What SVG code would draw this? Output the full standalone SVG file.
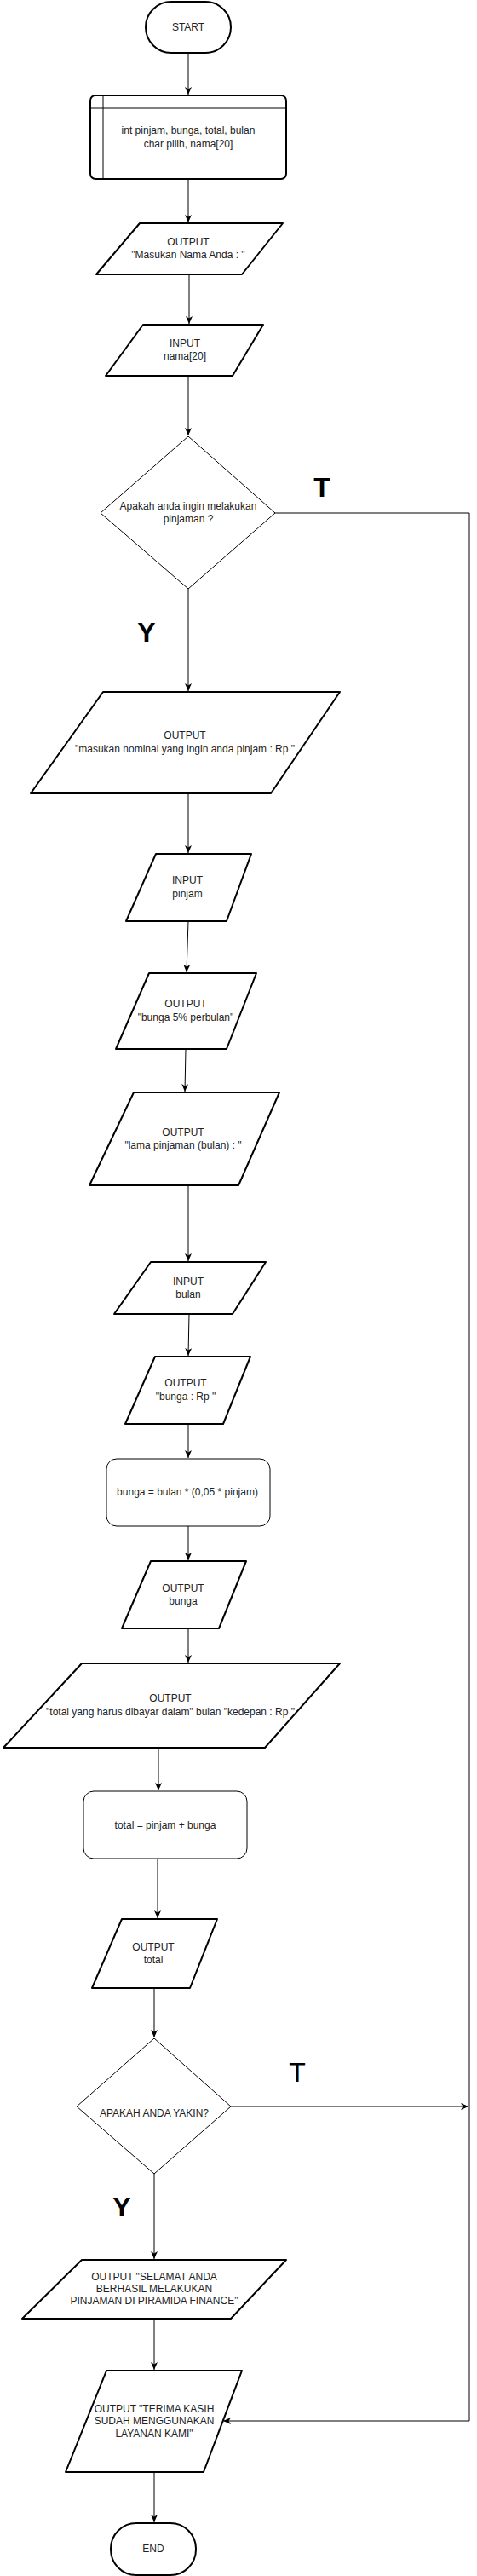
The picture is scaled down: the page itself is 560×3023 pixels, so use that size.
<svg xmlns="http://www.w3.org/2000/svg" width="560" height="3023" viewBox="0 0 560 3023">
<defs>
<marker id="arr" viewBox="0 0 10 8" markerWidth="10" markerHeight="8" refX="9" refY="4" orient="auto" markerUnits="userSpaceOnUse">
<path d="M0,0 L9,4 L0,8 L2.5,4 z" fill="#000"/>
</marker>
<style>
.s2{fill:#fff;stroke:#000;stroke-width:2;stroke-linejoin:round}
.s1{fill:#fff;stroke:#000;stroke-width:1;stroke-linejoin:round}
.t{font-family:"Liberation Sans",Arial,sans-serif;font-size:12px;fill:#222;text-anchor:middle}
.big{font-family:"Liberation Sans",Arial,sans-serif;font-size:32px;fill:#000;text-anchor:middle}
.c{fill:none;stroke:#000;stroke-width:1}
</style>
</defs>
<rect width="560" height="3023" fill="#fff"/>
<g id="connectors">
<path class="c" d="M221,62 V111" marker-end="url(#arr)"/>
<path class="c" d="M221,210 V261" marker-end="url(#arr)"/>
<path class="c" d="M222,322 V380" marker-end="url(#arr)"/>
<path class="c" d="M221,441 V511" marker-end="url(#arr)"/>
<path class="c" d="M221,691 V811" marker-end="url(#arr)"/>
<path class="c" d="M323,602 H551 V2841 H262" marker-end="url(#arr)"/>
<path class="c" d="M221,931 V1001" marker-end="url(#arr)"/>
<path class="c" d="M221,1081 L219,1141" marker-end="url(#arr)"/>
<path class="c" d="M218,1231 L217,1281" marker-end="url(#arr)"/>
<path class="c" d="M221,1391 V1480" marker-end="url(#arr)"/>
<path class="c" d="M222,1542 L221,1591" marker-end="url(#arr)"/>
<path class="c" d="M221,1671 V1711" marker-end="url(#arr)"/>
<path class="c" d="M221,1791 V1831" marker-end="url(#arr)"/>
<path class="c" d="M221,1911 V1951" marker-end="url(#arr)"/>
<path class="c" d="M186,2051 V2101" marker-end="url(#arr)"/>
<path class="c" d="M185,2181 V2251" marker-end="url(#arr)"/>
<path class="c" d="M181,2333 V2391" marker-end="url(#arr)"/>
<path class="c" d="M271,2472 H550" marker-end="url(#arr)"/>
<path class="c" d="M181,2551 V2651" marker-end="url(#arr)"/>
<path class="c" d="M181,2721 V2781" marker-end="url(#arr)"/>
<path class="c" d="M181,2901 V2960" marker-end="url(#arr)"/>
<text class="big" x="378" y="583" font-weight="bold">T</text>
<text class="big" x="172" y="753" font-weight="bold">Y</text>
<text class="big" x="349" y="2443">T</text>
<text class="big" x="143" y="2601" font-weight="bold">Y</text>
</g>
<g id="start">
<rect class="s2" x="171" y="2" width="100" height="60" rx="30"/>
<text class="t" x="221" y="36">START</text>
</g>
<g id="declare">
<rect class="s2" x="106" y="112" width="230" height="98" rx="6"/>
<path class="c" d="M121,112 V210 M106,127 H336" stroke-width="2"/>
<text class="t" x="221" y="157">int pinjam, bunga, total, bulan</text>
<text class="t" x="221" y="173">char pilih, nama[20]</text>
</g>
<g id="out-nama">
<polygon class="s2" points="164,262 332,262 284,322 113,322"/>
<text class="t" x="221" y="288">OUTPUT</text>
<text class="t" x="221" y="303">"Masukan Nama Anda : "</text>
</g>
<g id="in-nama">
<polygon class="s2" points="168,381 309,381 273,441 124,441"/>
<text class="t" x="217" y="407">INPUT</text>
<text class="t" x="217" y="422">nama[20]</text>
</g>
<g id="dec-pinjam">
<polygon class="s1" points="221,512 323,602 221,691 118,602" stroke-width="1.5"/>
<text class="t" x="221" y="598">Apakah anda ingin melakukan</text>
<text class="t" x="221" y="613">pinjaman ?</text>
</g>
<g id="out-nominal">
<polygon class="s2" points="121,812 399,812 318,931 36,931"/>
<text class="t" x="217" y="867">OUTPUT</text>
<text class="t" x="217" y="883">"masukan nominal yang ingin anda pinjam : Rp "</text>
</g>
<g id="in-pinjam">
<polygon class="s2" points="183,1002 295,1002 266,1081 148,1081"/>
<text class="t" x="220" y="1037">INPUT</text>
<text class="t" x="220" y="1053">pinjam</text>
</g>
<g id="out-bunga5">
<polygon class="s2" points="175,1142 301,1142 266,1231 136,1231"/>
<text class="t" x="218" y="1182">OUTPUT</text>
<text class="t" x="218" y="1198">"bunga 5% perbulan"</text>
</g>
<g id="out-lama">
<polygon class="s2" points="157,1282 328,1282 280,1391 105,1391"/>
<text class="t" x="215" y="1333">OUTPUT</text>
<text class="t" x="215" y="1348">"lama pinjaman (bulan) : "</text>
</g>
<g id="in-bulan">
<polygon class="s2" points="177,1481 312,1481 273,1542 134,1542"/>
<text class="t" x="221" y="1508">INPUT</text>
<text class="t" x="221" y="1523">bulan</text>
</g>
<g id="out-bungarp">
<polygon class="s2" points="182,1592 294,1592 262,1671 147,1671"/>
<text class="t" x="218" y="1627">OUTPUT</text>
<text class="t" x="218" y="1643">"bunga : Rp "</text>
</g>
<g id="calc-bunga">
<rect class="s1" x="125" y="1712" width="192" height="79" rx="12"/>
<text class="t" x="220" y="1755">bunga = bulan * (0,05 * pinjam)</text>
</g>
<g id="out-bunga">
<polygon class="s2" points="177,1832 289,1832 257,1911 143,1911"/>
<text class="t" x="215" y="1868">OUTPUT</text>
<text class="t" x="215" y="1883">bunga</text>
</g>
<g id="out-totalmsg">
<polygon class="s2" points="96,1952 399,1952 311,2051 4,2051"/>
<text class="t" x="200" y="1997">OUTPUT</text>
<text class="t" x="200" y="2013">"total yang harus dibayar dalam" bulan "kedepan : Rp "</text>
</g>
<g id="calc-total">
<rect class="s1" x="98" y="2102" width="192" height="79" rx="12"/>
<text class="t" x="194" y="2146">total = pinjam + bunga</text>
</g>
<g id="out-total">
<polygon class="s2" points="143,2252 255,2252 223,2333 108,2333"/>
<text class="t" x="180" y="2289">OUTPUT</text>
<text class="t" x="180" y="2304">total</text>
</g>
<g id="dec-yakin">
<polygon class="s1" points="181,2392 271,2472 181,2551 90,2472"/>
<text class="t" x="181" y="2484">APAKAH ANDA YAKIN?</text>
</g>
<g id="out-selamat">
<polygon class="s2" points="96,2652 336,2652 271,2721 26,2721"/>
<text class="t" x="181" y="2676">OUTPUT "SELAMAT ANDA</text>
<text class="t" x="181" y="2690">BERHASIL MELAKUKAN</text>
<text class="t" x="181" y="2704">PINJAMAN DI PIRAMIDA FINANCE"</text>
</g>
<g id="out-terima">
<polygon class="s2" points="125,2782 284,2782 239,2901 77,2901"/>
<text class="t" x="181" y="2831">OUTPUT "TERIMA KASIH</text>
<text class="t" x="181" y="2845">SUDAH MENGGUNAKAN</text>
<text class="t" x="181" y="2860">LAYANAN KAMI"</text>
</g>
<g id="end">
<rect class="s2" x="130" y="2961" width="100" height="61" rx="30"/>
<text class="t" x="180" y="2995">END</text>
</g>
</svg>
